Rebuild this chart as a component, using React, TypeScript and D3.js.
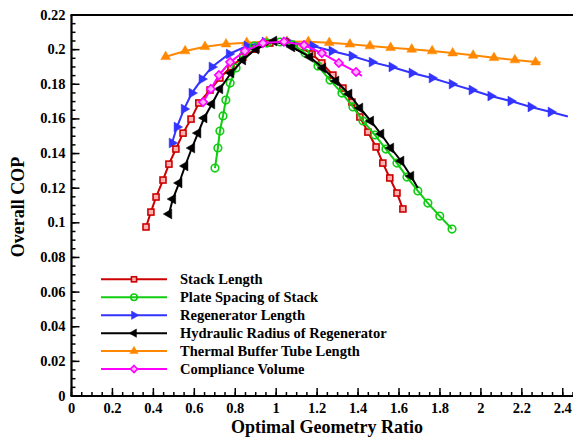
import * as d3 from "d3";

// ---- data ----
const stackLengthX = [0.364, 0.388, 0.413, 0.447, 0.476, 0.51, 0.545, 0.584, 0.622, 0.677, 0.725, 0.779, 0.837, 0.901, 0.969, 1.043, 1.116, 1.175, 1.223, 1.277, 1.326, 1.37, 1.409, 1.448, 1.488, 1.521, 1.555, 1.59, 1.619];
const stackLengthY = [0.0976, 0.1062, 0.1149, 0.1247, 0.1339, 0.1426, 0.1518, 0.1599, 0.1692, 0.1767, 0.1836, 0.19, 0.1957, 0.2003, 0.2038, 0.2044, 0.2015, 0.1975, 0.1923, 0.1853, 0.1778, 0.1697, 0.1611, 0.1524, 0.1438, 0.1345, 0.1259, 0.1172, 0.108];

const plateSpacingX = [0.701, 0.715, 0.725, 0.74, 0.754, 0.775, 0.804, 0.842, 0.892, 0.955, 1.019, 1.082, 1.141, 1.204, 1.263, 1.321, 1.375, 1.424, 1.483, 1.536, 1.59, 1.639, 1.692, 1.741, 1.799, 1.859];
const plateSpacingY = [0.1316, 0.1432, 0.153, 0.1617, 0.1709, 0.1807, 0.1894, 0.1969, 0.2021, 0.2038, 0.2044, 0.2027, 0.198, 0.1905, 0.1824, 0.1749, 0.1669, 0.1588, 0.1507, 0.1426, 0.1345, 0.1264, 0.1184, 0.1114, 0.1039, 0.0964];

const regenLengthX = [0.491, 0.515, 0.55, 0.588, 0.637, 0.686, 0.77, 0.857, 0.945, 1.062, 1.179, 1.272, 1.37, 1.468, 1.565, 1.663, 1.761, 1.859, 1.956, 2.048, 2.146, 2.244, 2.342, 2.425];
const regenLengthY = [0.1461, 0.1553, 0.1657, 0.1749, 0.183, 0.19, 0.1975, 0.2021, 0.2044, 0.2044, 0.2021, 0.1992, 0.1963, 0.1928, 0.19, 0.1865, 0.1836, 0.1801, 0.1767, 0.1732, 0.1703, 0.1669, 0.164, 0.1614];

const hydraulicX = [0.476, 0.495, 0.526, 0.555, 0.588, 0.618, 0.648, 0.686, 0.725, 0.779, 0.837, 0.901, 0.989, 1.077, 1.165, 1.228, 1.292, 1.356, 1.409, 1.462, 1.512, 1.56, 1.61, 1.658, 1.692];
const hydraulicY = [0.1051, 0.1137, 0.123, 0.1328, 0.1432, 0.1518, 0.1605, 0.1686, 0.1773, 0.1865, 0.194, 0.2003, 0.205, 0.2015, 0.1957, 0.1894, 0.1819, 0.1744, 0.1663, 0.1588, 0.1513, 0.1432, 0.1357, 0.127, 0.1201];

const bufferTubeX = [0.46, 0.555, 0.652, 0.755, 0.856, 0.953, 1.053, 1.157, 1.259, 1.36, 1.458, 1.559, 1.662, 1.762, 1.862, 1.962, 2.064, 2.166, 2.267, 2.292];
const bufferTubeY = [0.1959, 0.1992, 0.2017, 0.2032, 0.204, 0.2046, 0.2047, 0.2046, 0.204, 0.2031, 0.2021, 0.2011, 0.2002, 0.1992, 0.198, 0.1967, 0.1953, 0.194, 0.1928, 0.1926];

const complianceX = [0.643, 0.681, 0.72, 0.775, 0.847, 0.935, 1.038, 1.136, 1.223, 1.306, 1.39, 1.419];
const complianceY = [0.1697, 0.1773, 0.1853, 0.1928, 0.1992, 0.2038, 0.2046, 0.2026, 0.198, 0.1923, 0.1871, 0.1848];

const xTicks = [0, 0.2, 0.4, 0.6, 0.8, 1, 1.2, 1.4, 1.6, 1.8, 2, 2.2, 2.4];
const yTicks = [0, 0.02, 0.04, 0.06, 0.08, 0.1, 0.12, 0.14, 0.16, 0.18, 0.2, 0.22];

type Shape = "square" | "circle" | "right" | "left" | "up" | "diamond";

const series = [
  { name: "Stack Length", xs: stackLengthX, ys: stackLengthY, color: "#cc0000", shape: "square" as Shape, markLast: true },
  { name: "Plate Spacing of Stack", xs: plateSpacingX, ys: plateSpacingY, color: "#11cc11", shape: "circle" as Shape, markLast: true },
  { name: "Regenerator Length", xs: regenLengthX, ys: regenLengthY, color: "#3333ff", shape: "right" as Shape, markLast: false },
  { name: "Hydraulic Radius of Regenerator", xs: hydraulicX, ys: hydraulicY, color: "#000000", shape: "left" as Shape, markLast: false },
  { name: "Thermal Buffer Tube Length", xs: bufferTubeX, ys: bufferTubeY, color: "#ff8800", shape: "up" as Shape, markLast: false },
  { name: "Compliance Volume", xs: complianceX, ys: complianceY, color: "#ff00ff", shape: "diamond" as Shape, markLast: false },
];

const drawOrder = [4, 2, 0, 1, 3, 5];

const font = "Liberation Serif";

function Marker({ shape, x, y, color, small }: { shape: Shape; x: number; y: number; color: string; small?: boolean }) {
  const k = small ? 0.85 : 1;
  if (shape === "square") {
    const s = 6 * k;
    return <rect x={x - s / 2} y={y - s / 2} width={s} height={s} fill="#ffb0b0" stroke={color} strokeWidth={1.6} />;
  }
  if (shape === "circle") {
    return <circle cx={x} cy={y} r={3.8 * k} fill="none" stroke={color} strokeWidth={1.6} />;
  }
  if (shape === "diamond") {
    const s = 4.2 * k;
    return <path d={`M${x},${y - s}L${x + s},${y}L${x},${y + s}L${x - s},${y}Z`} fill="#ffb0ff" stroke={color} strokeWidth={1.6} />;
  }
  const rot = shape === "right" ? 90 : shape === "left" ? -90 : 0;
  const d = d3.symbol(d3.symbolTriangle, 42 * k * k)() as string;
  return <path d={d} transform={`translate(${x},${y}) rotate(${rot})`} fill={color} stroke={color} strokeWidth={0.5} />;
}

export default function App() {
  const width = 573;
  const height = 437;
  const left = 71.5;
  const bottom = 396;
  const top = 15;
  const right = 573;

  const x = d3.scaleLinear().domain([0, 2.45]).range([left, right]);
  const y = d3.scaleLinear().domain([0, 0.22]).range([bottom, top]);

  const xMinor = d3.range(0, 2.45001, 0.05);
  const yMinor = d3.range(0, 0.22001, 0.005);

  const line = d3
    .line<[number, number]>()
    .x((d) => x(d[0]))
    .y((d) => y(d[1]));

  const fmt = (v: number) => String(+v.toFixed(2));

  const legendY0 = 279.3;
  const legendStep = 17.95;

  return (
    <svg width={width} height={height} style={{ position: "absolute", left: 0, top: 0, background: "#fff" }}>
      <defs>
        <clipPath id="plot">
          <rect x={left} y={top} width={right - left} height={bottom - top} />
        </clipPath>
      </defs>

      {/* ticks */}
      <g stroke="#000" strokeWidth={1.5}>
        {xMinor.map((v, i) => (
          <line key={"xm" + i} x1={x(v)} x2={x(v)} y1={bottom} y2={bottom - 4} />
        ))}
        {xTicks.map((v) => (
          <line key={"xt" + v} x1={x(v)} x2={x(v)} y1={bottom} y2={bottom - 8} />
        ))}
        {yMinor.map((v, i) => (
          <line key={"ym" + i} x1={left} x2={left + 4} y1={y(v)} y2={y(v)} />
        ))}
        {yTicks.map((v) => (
          <line key={"yt" + v} x1={left} x2={left + 8} y1={y(v)} y2={y(v)} />
        ))}
      </g>

      {/* frame */}
      <g stroke="#000" strokeWidth={2.2} fill="none">
        <line x1={left} x2={left} y1={top} y2={bottom} />
        <line x1={left - 1} x2={width} y1={bottom} y2={bottom} />
        <line x1={left - 1} x2={width} y1={top} y2={top} />
      </g>

      {/* tick labels */}
      <g fontFamily={font} fontWeight="bold" fontSize={14.5} fill="#000">
        {xTicks.map((v) => (
          <text key={"xl" + v} x={x(v)} y={bottom + 17} textAnchor="middle">
            {fmt(v)}
          </text>
        ))}
        {yTicks.map((v) => (
          <text key={"yl" + v} x={left - 6} y={y(v) + 4.5} textAnchor="end">
            {fmt(v)}
          </text>
        ))}
      </g>

      {/* axis titles */}
      <text x={327} y={433} textAnchor="middle" fontFamily={font} fontWeight="bold" fontSize={18}>
        Optimal Geometry Ratio
      </text>
      <text
        transform={`translate(24, 207) rotate(-90)`}
        textAnchor="middle"
        fontFamily={font}
        fontWeight="bold"
        fontSize={18}
      >
        Overall COP
      </text>

      {/* series */}
      <g clipPath="url(#plot)">
        {drawOrder.map((si) => {
          const s = series[si];
          const pts = s.xs.map((v, i) => [v, s.ys[i]] as [number, number]);
          const marked = s.markLast ? pts : pts.slice(0, -1);
          return (
            <g key={s.name}>
              <path d={line(pts) as string} fill="none" stroke={s.color} strokeWidth={2} />
              {marked.map((p, i) => (
                <Marker key={i} shape={s.shape} x={x(p[0])} y={y(p[1])} color={s.color} />
              ))}
            </g>
          );
        })}
      </g>

      {/* legend */}
      <g>
        {series.map((s, i) => {
          const ly = legendY0 + i * legendStep;
          return (
            <g key={"lg" + s.name}>
              <line x1={101} x2={167} y1={ly} y2={ly} stroke={s.color} strokeWidth={2} />
              <Marker shape={s.shape} x={134} y={ly} color={s.color} small />
              <text x={180} y={ly + 5} fontFamily={font} fontWeight="bold" fontSize={14.5}>
                {s.name}
              </text>
            </g>
          );
        })}
      </g>
    </svg>
  );
}
